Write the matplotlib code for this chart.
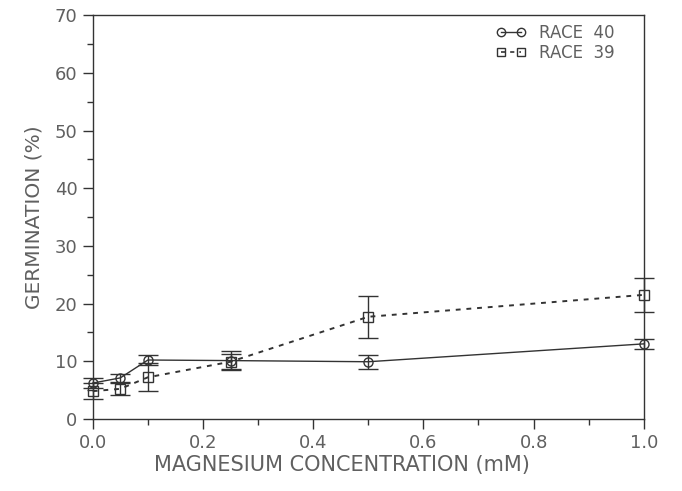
import matplotlib
matplotlib.use('Agg')
import matplotlib.pyplot as plt
from matplotlib.ticker import MultipleLocator, FormatStrFormatter
from matplotlib.lines import Line2D

plt.rcParams['font.family'] = ['DejaVu Sans']

# magnesium concentration (mM)
conc = [0.0, 0.05, 0.1, 0.25, 0.5, 1.0]

# germination (%) and error bars
race40 = [6.2, 7.1, 10.2, 10.1, 9.9, 13.0]
race40_err = [0.8, 0.7, 0.9, 1.7, 1.2, 0.9]
race39 = [4.8, 5.2, 7.2, 9.9, 17.7, 21.5]
race39_err = [1.4, 1.0, 2.4, 1.3, 3.6, 3.0]

ink = '#333333'
text_col = '#606060'
dashes = (0, (2.5, 3))

fig = plt.figure(figsize=(6.82, 4.91), dpi=100)
ax = fig.add_axes([0.136, 0.147, 0.808, 0.822])

for y, err, mk, ls, lw in [(race40, race40_err, 'o', '-', 1.0),
                           (race39, race39_err, 's', dashes, 1.4)]:
    line, caps, bars = ax.errorbar(conc, y, yerr=err, color=ink, lw=lw, ls=ls,
                                   marker=mk, ms=6.5, mfc='none', mec=ink, mew=1.0,
                                   capsize=7, elinewidth=1.0, capthick=1.0)
    line.set_clip_on(False)
    for c in caps:
        c.set_clip_on(False)
    for b in bars:
        b.set_clip_on(False)

ax.set_xlim(0, 1.0)
ax.set_ylim(0, 70)
ax.xaxis.set_major_locator(MultipleLocator(0.2))
ax.xaxis.set_minor_locator(MultipleLocator(0.1))
ax.yaxis.set_major_locator(MultipleLocator(10))
ax.yaxis.set_minor_locator(MultipleLocator(5))
ax.xaxis.set_major_formatter(FormatStrFormatter('%.1f'))

ax.tick_params(which='both', direction='out', color=ink, width=1.0,
               labelcolor=text_col, labelsize=13, top=False, right=False)
ax.tick_params(which='major', length=7, pad=4)
ax.tick_params(which='minor', length=4)
for s in ax.spines.values():
    s.set_color(ink)
    s.set_linewidth(1.0)

ax.set_xlabel('MAGNESIUM CONCENTRATION (mM)', fontsize=15, color=text_col)
ax.xaxis.set_label_coords(0.452, -0.09)
ax.set_ylabel('GERMINATION (%)', fontsize=14.5, color=text_col, labelpad=8)

# legend handles without error bars
h40 = Line2D([], [], color=ink, lw=1.0, marker='o', ms=6, mfc='none', mec=ink)
h39 = Line2D([], [], color=ink, lw=1.2, ls=dashes, marker='s', ms=6, mfc='none', mec=ink)
leg = ax.legend([h40, h39], ['RACE  40', 'RACE  39'], loc='upper right',
                bbox_to_anchor=(0.975, 1.015), frameon=False, numpoints=2,
                handlelength=1.8, handletextpad=0.8, fontsize=12, labelspacing=0.1)
for t in leg.get_texts():
    t.set_color(text_col)

fig.savefig('out.png', dpi=100)
